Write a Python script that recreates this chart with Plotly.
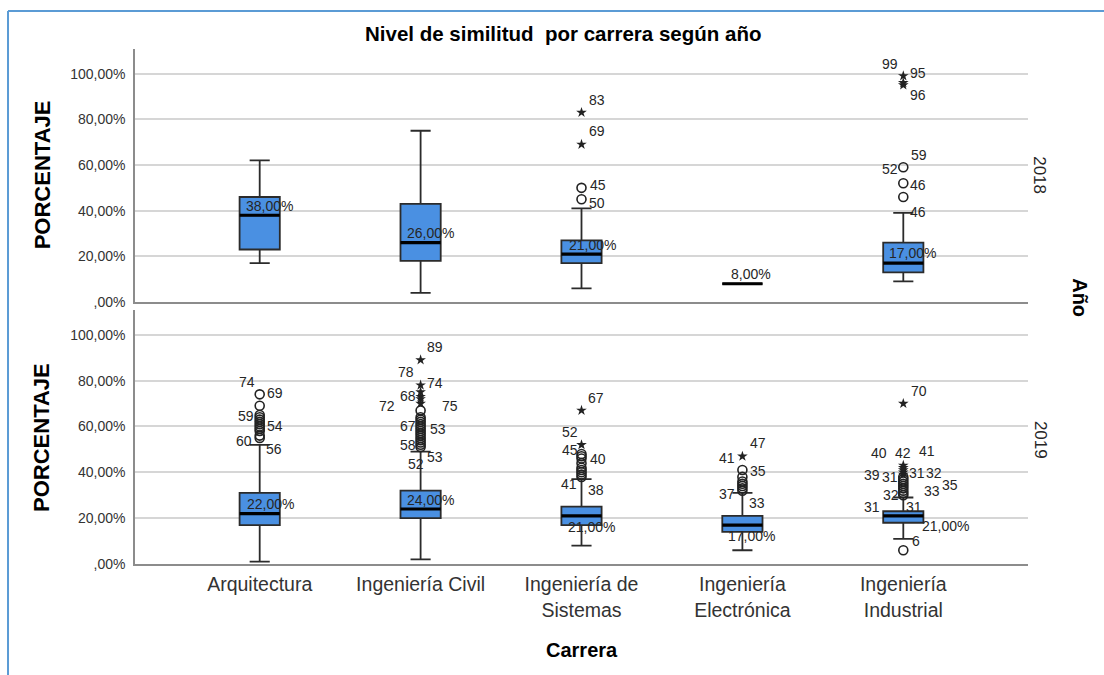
import plotly.graph_objects as go

# Categories (x axis) and panel years
categories = ["Arquitectura", "Ingeniería Civil", "Ingeniería de<br>Sistemas",
              "Ingeniería<br>Electrónica", "Ingeniería<br>Industrial"]
years = ["2018", "2019"]

# Box statistics, percentage of similarity — 2018
q1_2018 = [23, 18, 17, 8, 13]
med_2018 = [38, 26, 21, 8, 17]
q3_2018 = [46, 43, 27, 8, 26]
low_2018 = [17, 4, 6, 8, 9]
high_2018 = [62, 75, 41, 8, 39]
circ_2018 = [[], [], [45, 50], [], [46, 52, 59]]
star_2018 = [[], [], [69, 83], [], [95, 96, 99]]

# Box statistics — 2019
q1_2019 = [17, 20, 17, 14, 18]
med_2019 = [22, 24, 21, 17, 21]
q3_2019 = [31, 32, 25, 21, 23]
low_2019 = [1, 2, 8, 6, 11]
high_2019 = [52, 49, 37, 31, 29]
circ_2019 = [[55, 56, 58, 59, 60, 61, 62, 63, 64, 65, 69, 74],
             [51, 52, 53, 54, 55, 56, 57, 58, 59, 60, 61, 62, 63, 64, 67],
             [38, 39, 40, 41, 42, 44, 46, 47, 48],
             [32, 33, 34, 35, 36, 38, 41],
             [6, 30, 31, 32, 33, 34, 35, 36, 37, 38]]
star_2019 = [[], [70, 72, 73, 75, 78, 89], [52, 67], [47], [39, 40, 41, 42, 43, 70]]

# Y tick values and labels
y_ticks = [0, 20, 40, 60, 80, 100]
y_tick_text = [",00%", "20,00%", "40,00%", "60,00%", "80,00%", "100,00%"]

# Case-number labels: (category, case, y, xshift px, xanchor)
case_labels_2018 = [
    (2, "83", 88.6, 5, "left"), (2, "69", 74.8, 5, "left"),
    (2, "45", 51.2, 6, "left"), (2, "50", 43.2, 5, "left"),
    (4, "99", 104.4, -3, "right"), (4, "95", 100.3, 5, "left"),
    (4, "96", 90.5, 5, "left"), (4, "59", 64.6, 6, "left"),
    (4, "52", 58.1, -3, "right"), (4, "46", 51.2, 5, "left"),
    (4, "46", 39.6, 5, "left"),
]
case_labels_2019 = [
    (0, "74", 79.6, -13, "center"), (0, "69", 74.8, 5, "left"),
    (0, "59", 64.6, -4, "right"), (0, "54", 60.0, 5, "left"),
    (0, "60", 53.7, -6, "right"), (0, "56", 50.0, 4, "left"),
    (1, "89", 94.6, 4, "left"), (1, "78", 83.6, -5, "right"),
    (1, "74", 78.9, 4, "left"), (1, "68", 73.4, -3, "right"),
    (1, "72", 69.0, -24, "right"), (1, "75", 69.0, 19, "left"),
    (1, "67", 60.3, -3, "right"), (1, "53", 58.8, 7, "left"),
    (1, "58", 52.0, -3, "right"), (1, "53", 46.6, 4, "left"),
    (1, "52", 43.7, -5, "center"),
    (2, "67", 72.3, 4, "left"), (2, "52", 57.8, -12, "center"),
    (2, "45", 49.8, -12, "center"), (2, "40", 45.9, 6, "left"),
    (2, "41", 34.9, -13, "center"), (2, "38", 32.3, 4, "left"),
    (3, "47", 52.7, 6, "left"), (3, "41", 46.4, -5, "right"),
    (3, "35", 40.6, 6, "left"), (3, "37", 30.6, -5, "right"),
    (3, "33", 26.8, 5, "left"),
    (4, "70", 75.3, 6, "left"), (4, "40", 48.6, -24, "center"),
    (4, "42", 48.6, 0, "center"), (4, "41", 49.3, 24, "center"),
    (4, "39", 38.9, -31, "center"), (4, "31", 38.1, -13, "center"),
    (4, "31", 39.9, 14, "center"), (4, "32", 39.9, 31, "center"),
    (4, "32", 30.1, -12, "center"), (4, "33", 32.0, 29, "center"),
    (4, "35", 34.5, 47, "center"), (4, "31", 25.0, -31, "center"),
    (4, "31", 25.0, 11, "center"), (4, "6", 10.2, 7, "left"),
]
# Median label placement: (xshift px, yshift px)
med_label_pos_2018 = [(-16, 9), (-16, 10), (-15, 9), (-13, 10), (-16, 10)]
med_label_pos_2019 = [(-15, 10), (-16, 9), (-16, -11), (-16, -11), (17, -10)]

BOX_W = 0.25
BOX_FILL = "#4A90E2"
FONT = "Liberation Sans, Arial, sans-serif"
TXT = "#262626"

fig = go.Figure()

panels = [
    ("x", "y", q1_2018, med_2018, q3_2018, low_2018, high_2018, circ_2018, star_2018,
     case_labels_2018, med_label_pos_2018),
    ("x2", "y2", q1_2019, med_2019, q3_2019, low_2019, high_2019, circ_2019, star_2019,
     case_labels_2019, med_label_pos_2019),
]

xpos = list(range(len(categories)))
annotations = []

for xa, ya, q1, med, q3, lo, hi, circ, star, clabels, mpos in panels:
    fig.add_trace(go.Box(
        x=xpos, q1=q1, median=med, q3=q3, lowerfence=lo, upperfence=hi,
        width=BOX_W, whiskerwidth=0.5, boxpoints=False,
        fillcolor=BOX_FILL, line=dict(color="#2b2b2b", width=1.8),
        xaxis=xa, yaxis=ya, showlegend=False, hoverinfo="skip",
    ))
    # thick median bars
    mx, my = [], []
    for i, m in enumerate(med):
        mx += [i - BOX_W / 2, i + BOX_W / 2, None]
        my += [m, m, None]
    fig.add_trace(go.Scatter(x=mx, y=my, mode="lines", line=dict(color="black", width=3.2),
                             xaxis=xa, yaxis=ya, showlegend=False, hoverinfo="skip"))
    # outliers (circles) and extremes (stars)
    cx = [i for i, vals in enumerate(circ) for _ in vals]
    cy = [v for vals in circ for v in vals]
    fig.add_trace(go.Scatter(x=cx, y=cy, mode="markers",
                             marker=dict(symbol="circle-open", size=9, color="#222",
                                         line=dict(width=1.6, color="#222")),
                             xaxis=xa, yaxis=ya, showlegend=False, hoverinfo="skip"))
    sx = [i for i, vals in enumerate(star) for _ in vals]
    sy = [v for vals in star for v in vals]
    fig.add_trace(go.Scatter(x=sx, y=sy, mode="markers",
                             marker=dict(symbol="star", size=8, color="#222"),
                             xaxis=xa, yaxis=ya, showlegend=False, hoverinfo="skip"))
    for i, m in enumerate(med):
        dx, dy = mpos[i]
        annotations.append(dict(
            x=i, y=m, xref=xa, yref=ya, text=f"{m:.2f}".replace(".", ",") + "%",
            showarrow=False, xanchor="left", yanchor="middle", xshift=dx, yshift=dy,
            font=dict(family=FONT, size=14, color=TXT)))
    for cat, txt, yv, dx, anchor in clabels:
        annotations.append(dict(
            x=cat, y=yv, xref=xa, yref=ya, text=txt, showarrow=False,
            xanchor=anchor, yanchor="middle", xshift=dx,
            font=dict(family=FONT, size=14, color=TXT)))

# Titles and side labels
side = dict(xref="paper", yref="paper", showarrow=False, xanchor="center", yanchor="middle")
annotations += [
    dict(**side, x=0.479, y=1.031, text="<b>Nivel de similitud  por carrera según año</b>",
         font=dict(family=FONT, size=20.5, color="black")),
    dict(**side, x=-0.104, y=0.755, text="<b>PORCENTAJE</b>", textangle=-90,
         font=dict(family=FONT, size=22, color="black")),
    dict(**side, x=-0.104, y=0.245, text="<b>PORCENTAJE</b>", textangle=-90,
         font=dict(family=FONT, size=22, color="black")),
    dict(**side, x=1.0134, y=0.755, text=years[0], textangle=90,
         font=dict(family=FONT, size=17, color=TXT)),
    dict(**side, x=1.0134, y=0.241, text=years[1], textangle=90,
         font=dict(family=FONT, size=17, color=TXT)),
    dict(**side, x=1.058, y=0.5165, text="<b>Año</b>", textangle=90,
         font=dict(family=FONT, size=20, color="black")),
    dict(**side, x=0.501, y=-0.167, text="<b>Carrera</b>",
         font=dict(family=FONT, size=20, color="black")),
]

yaxis_style = dict(range=[0, 110.8], tickvals=y_ticks, ticktext=y_tick_text,
                   showline=True, linecolor="#8c8c8c", linewidth=1.5,
                   showgrid=True, gridcolor="#d6d6d6", gridwidth=1.5, zeroline=False,
                   ticks="", ticklabelstandoff=5,
                   tickfont=dict(family=FONT, size=14, color="#333"))
xaxis_style = dict(range=[-0.775, 4.775], showline=True, linecolor="#8c8c8c", linewidth=2,
                   showgrid=False, zeroline=False, ticks="")

fig.update_layout(
    width=1104, height=675,
    margin=dict(l=135, r=76, t=49, b=111),
    paper_bgcolor="white", plot_bgcolor="white",
    showlegend=False,
    xaxis=dict(**xaxis_style, anchor="y", showticklabels=False),
    xaxis2=dict(**xaxis_style, anchor="y2", tickvals=xpos, ticktext=categories,
                tickfont=dict(family=FONT, size=19.5, color="#333"), ticklabelstandoff=2),
    yaxis=dict(**yaxis_style, domain=[0.5087, 1.0]),
    yaxis2=dict(**yaxis_style, domain=[0.0, 0.4932]),
    annotations=annotations,
    shapes=[
        dict(type="line", xref="paper", yref="paper", x0=-0.1422, x1=1.09, y0=1.0738, y1=1.0738,
             line=dict(color="#5B9BD5", width=2)),
        dict(type="line", xref="paper", yref="paper", x0=-0.1422, x1=-0.1422, y0=1.0738, y1=-0.22,
             line=dict(color="#5B9BD5", width=2)),
    ],
)

fig.write_html("out.html")
